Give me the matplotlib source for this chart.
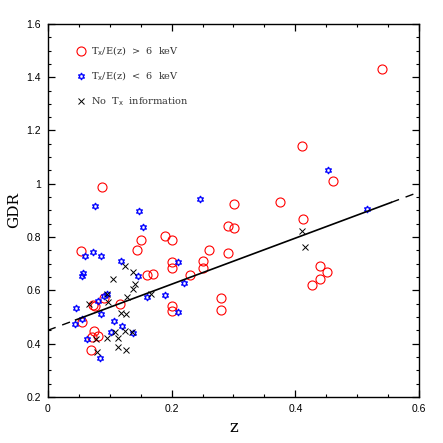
import matplotlib
matplotlib.use("Agg")
import matplotlib.pyplot as plt
from matplotlib.ticker import MultipleLocator
from matplotlib.lines import Line2D

# Tx/E(z) > 6 keV
hot_z = [0.540, 0.411, 0.461, 0.087, 0.375, 0.301, 0.412, 0.291, 0.301, 0.189,
         0.150, 0.200, 0.053, 0.144, 0.260, 0.291, 0.200, 0.251, 0.200, 0.251,
         0.440, 0.451, 0.160, 0.170, 0.230, 0.440, 0.427, 0.280, 0.091, 0.116,
         0.073, 0.076, 0.200, 0.200, 0.280, 0.055, 0.074, 0.071, 0.081, 0.070]
hot_gdr = [1.431, 1.142, 1.011, 0.988, 0.932, 0.924, 0.868, 0.842, 0.834, 0.804,
           0.789, 0.789, 0.748, 0.752, 0.752, 0.740, 0.707, 0.710, 0.684, 0.684,
           0.692, 0.669, 0.658, 0.662, 0.658, 0.643, 0.620, 0.571, 0.571, 0.549,
           0.545, 0.540, 0.541, 0.523, 0.526, 0.481, 0.448, 0.425, 0.429, 0.376]

# Tx/E(z) < 6 keV
cool_z = [0.077, 0.147, 0.246, 0.154, 0.060, 0.073, 0.086, 0.118, 0.210, 0.453,
          0.516, 0.057, 0.055, 0.146, 0.220, 0.160, 0.189, 0.090, 0.081, 0.045,
          0.086, 0.055, 0.044, 0.107, 0.120, 0.102, 0.137, 0.063, 0.084, 0.210,
          0.096]
cool_gdr = [0.917, 0.899, 0.943, 0.838, 0.729, 0.744, 0.729, 0.711, 0.707, 1.052,
            0.906, 0.665, 0.654, 0.654, 0.628, 0.575, 0.583, 0.580, 0.560, 0.534,
            0.511, 0.493, 0.474, 0.485, 0.466, 0.444, 0.440, 0.418, 0.346, 0.519,
            0.586]

# no Tx information
notx_z = [0.125, 0.137, 0.141, 0.137, 0.105, 0.095, 0.098, 0.066, 0.128, 0.118,
          0.126, 0.166, 0.108, 0.114, 0.124, 0.136, 0.095, 0.078, 0.113, 0.126,
          0.080, 0.411, 0.416]
notx_gdr = [0.693, 0.669, 0.622, 0.605, 0.641, 0.587, 0.557, 0.549, 0.575, 0.515,
            0.511, 0.585, 0.444, 0.421, 0.449, 0.444, 0.421, 0.418, 0.388, 0.376,
            0.368, 0.823, 0.763]

# best-fit line GDR = a + b z
fit_a, fit_b = 0.45, 0.865
fit_solid = [0.045, 0.555]
fit_dash_lo = [0.0, 0.045]
fit_dash_hi = [0.555, 0.6]

x_ticks = [0, 0.2, 0.4, 0.6]
x_ticklabels = ['0', '0.2', '0.4', '0.6']
y_ticks = [0.2, 0.4, 0.6, 0.8, 1.0, 1.2, 1.4, 1.6]
y_ticklabels = ['0.2', '0.4', '0.6', '0.8', '1', '1.2', '1.4', '1.6']

fig = plt.figure(figsize=(4.43, 4.43), dpi=100)
ax = fig.add_axes([0.108, 0.104, 0.838, 0.842])

star6 = (6, 1, 0)
ax.plot(hot_z, hot_gdr, 'o', mfc='none', mec='red', ms=6.5, mew=0.8, ls='none')
ax.plot(cool_z, cool_gdr, marker=star6, mfc='none', mec='blue', ms=5.0, mew=0.9, ls='none')
ax.plot(notx_z, notx_gdr, 'x', color='black', ms=4.5, mew=0.7, ls='none')

ax.plot(fit_solid, [fit_a + fit_b * z for z in fit_solid], color='black', lw=1.2)
for seg in (fit_dash_lo, fit_dash_hi):
    ax.plot(seg, [fit_a + fit_b * z for z in seg], color='black', lw=1.0, ls=(0, (6, 5)))

ax.set_xlim(0, 0.6)
ax.set_ylim(0.2, 1.6)
ax.set_xticks(x_ticks)
ax.set_xticklabels(x_ticklabels, family='Liberation Sans')
ax.set_yticks(y_ticks)
ax.set_yticklabels(y_ticklabels, family='Liberation Sans')
ax.xaxis.set_minor_locator(MultipleLocator(0.05))
ax.yaxis.set_minor_locator(MultipleLocator(0.05))
ax.tick_params(which='both', direction='in', top=True, right=True, labelsize=7.5, pad=5)
ax.tick_params(which='major', length=5, width=0.9)
ax.tick_params(which='minor', length=2.5, width=0.8)
for s in ax.spines.values():
    s.set_linewidth(1.0)

ax.set_xlabel('z', family='DejaVu Serif', fontsize=12, labelpad=4)
ax.set_ylabel('GDR', family='DejaVu Serif', fontsize=11, labelpad=4)

handles = [
    Line2D([], [], marker='o', mfc='none', mec='red', ms=6.5, mew=0.8, ls='none'),
    Line2D([], [], marker=star6, mfc='none', mec='blue', ms=5.0, mew=0.9, ls='none'),
    Line2D([], [], marker='x', color='black', ms=4.5, mew=0.7, ls='none'),
]
labels = [r'T$_{\rm x}$/E(z)  >  6  keV', r'T$_{\rm x}$/E(z)  <  6  keV',
          r'No  T$_{\rm x}$  information']
leg = ax.legend(handles, labels, loc='upper left', bbox_to_anchor=(0.05, 0.968),
                frameon=False, labelspacing=1.2, handletextpad=0.45, handlelength=1.2,
                prop={'family': 'DejaVu Serif', 'size': 7})
for t in leg.get_texts():
    t.set_color('#333333')

fig.savefig('out.png', dpi=100)
